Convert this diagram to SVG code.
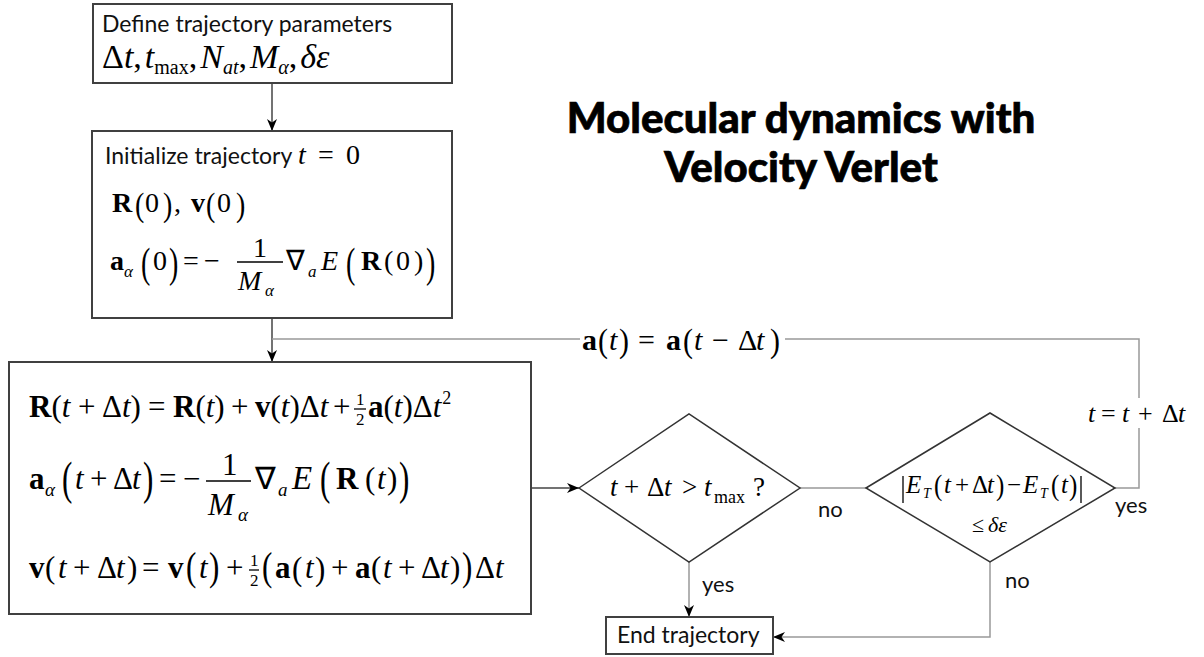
<svg xmlns="http://www.w3.org/2000/svg" width="1204" height="657" viewBox="0 0 1204 657">
<style>
.box{fill:#fff;stroke:#404040;stroke-width:2}
.dia{fill:#fff;stroke:#333;stroke-width:1.5}
.con{fill:none;stroke:#999;stroke-width:1.5}
.cond{fill:none;stroke:#444;stroke-width:1.5}
.s{font-family:Lato,"Open Sans","Liberation Sans",sans-serif;fill:#111}
.m{font-family:"Liberation Serif","Times New Roman",serif;fill:#000}
.i{font-style:italic}
.b{font-weight:bold}
.title{font-family:Lato,"Open Sans","Liberation Sans",sans-serif;font-weight:900;font-size:42px;fill:#000;stroke:#000;stroke-width:0.7;text-anchor:middle}
.bar{stroke:#000;stroke-width:1.3}
</style>
<defs>
<marker id="ah" viewBox="0 0 12 10" refX="12" refY="5" markerWidth="12" markerHeight="10" markerUnits="userSpaceOnUse" orient="auto">
<path d="M0,0 L12,5 L0,10 L3.5,5 z" fill="#000"/>
</marker>
</defs>
<rect width="1204" height="657" fill="#fff"/>

<g id="title">
<text class="title" x="801" y="133">Molecular dynamics with</text>
<text class="title" x="801" y="182">Velocity Verlet</text>
</g>

<g id="connectors">
<path class="cond" d="M272,83 V131" marker-end="url(#ah)"/>
<path class="cond" d="M272,318 V362" marker-end="url(#ah)"/>
<path class="con" d="M580,339 H272"/>
<path class="con" d="M1115,488 H1139 V428"/>
<path class="con" d="M1139,398 V339 H785"/>
<path class="cond" d="M531,488 H579" marker-end="url(#ah)"/>
<path class="con" d="M800,488 H866"/>
<path class="con" d="M689,562 V617" marker-end="url(#ah)"/>
<path class="con" d="M990,562 V637 H773" marker-end="url(#ah)"/>
<text class="s" x="818" y="517" font-size="22">no</text>
<text class="s" x="1115" y="513" font-size="22">yes</text>
<text class="s" x="702" y="592" font-size="22">yes</text>
<text class="s" x="1005" y="588" font-size="22">no</text>
<text class="m" font-size="30"><tspan class="b" x="582" y="350">a</tspan><tspan class="i" x="609" y="350">t</tspan><tspan x="638" y="350">=</tspan><tspan class="b" x="666" y="350">a</tspan><tspan class="i" x="694" y="350">t</tspan><tspan x="712" y="350">−</tspan><tspan x="738" y="350">Δ</tspan><tspan class="i" x="756" y="350">t</tspan></text>
<text class="m" font-size="30" transform="translate(598,352) scale(1,1.12)">(</text>
<text class="m" font-size="30" transform="translate(619,352) scale(1,1.12)">)</text>
<text class="m" font-size="30" transform="translate(683,352) scale(1,1.12)">(</text>
<text class="m" font-size="30" transform="translate(770,352) scale(1,1.12)">)</text>
<text class="m" y="422" font-size="26"><tspan class="i" x="1088">t</tspan><tspan x="1101">=</tspan><tspan class="i" x="1122">t</tspan><tspan x="1138">+</tspan><tspan x="1162">Δ</tspan><tspan class="i" x="1178">t</tspan></text>
</g>

<g id="define">
<rect class="box" x="93" y="4" width="359" height="79"/>
<text class="s" x="102" y="32" font-size="23">Define trajectory parameters</text>
<text class="m" x="102" y="68" font-size="34">Δ<tspan class="i">t</tspan>,<tspan class="i" dx="3">t</tspan><tspan font-size="20" dy="6">max</tspan><tspan dy="-6">,</tspan><tspan class="i" dx="3">N</tspan><tspan class="i" font-size="20" dy="6">at</tspan><tspan dy="-6">,</tspan><tspan class="i" dx="3">M</tspan><tspan class="i" font-size="20" dy="6">α</tspan><tspan dy="-6">,</tspan><tspan class="i" dx="3">δε</tspan></text>
</g>

<g id="init">
<rect class="box" x="92" y="131" width="360" height="187"/>
<text class="s" x="105" y="164" font-size="23">Initialize trajectory</text>
<text class="m" y="164" font-size="28"><tspan class="i" x="298">t</tspan><tspan x="318">=</tspan><tspan x="346">0</tspan></text>
<text class="m" y="212" font-size="28"><tspan class="b" x="112">R</tspan><tspan x="145">0</tspan><tspan x="174">,</tspan><tspan class="b" x="191">v</tspan><tspan x="217">0</tspan></text>
<text class="m" font-size="28" transform="translate(135,216) scale(1,1.2)">(</text>
<text class="m" font-size="28" transform="translate(163,216) scale(1,1.2)">)</text>
<text class="m" font-size="28" transform="translate(206,216) scale(1,1.2)">(</text>
<text class="m" font-size="28" transform="translate(236,216) scale(1,1.2)">)</text>
<text class="m" font-size="28"><tspan class="b" x="110" y="270">a</tspan><tspan class="i" x="124" y="277" font-size="17">α</tspan><tspan x="153" y="270">0</tspan><tspan x="183" y="270">=</tspan><tspan x="204" y="270">−</tspan><tspan x="253" y="257">1</tspan><tspan class="i" x="238" y="290">M</tspan><tspan class="i" x="265" y="296" font-size="17">α</tspan><tspan x="286" y="270">∇</tspan><tspan class="i" x="308" y="277" font-size="17">a</tspan><tspan class="i" x="321" y="270">E</tspan><tspan class="b" x="361" y="270">R</tspan><tspan x="384" y="270">(</tspan><tspan x="396" y="270">0</tspan><tspan x="414" y="270">)</tspan></text>
<text class="m" font-size="28" transform="translate(141,277) scale(1,1.5)">(</text>
<text class="m" font-size="28" transform="translate(169,277) scale(1,1.5)">)</text>
<text class="m" font-size="28" transform="translate(346,277) scale(1,1.5)">(</text>
<text class="m" font-size="28" transform="translate(426,277) scale(1,1.5)">)</text>
<line class="bar" x1="237" y1="262" x2="283" y2="262"/>
</g>

<g id="verlet">
<rect class="box" x="9" y="362" width="522" height="252"/>
<text class="m" y="417" font-size="31"><tspan x="29"><tspan class="b">R</tspan>(<tspan class="i">t</tspan></tspan><tspan x="78">+</tspan><tspan x="102">Δ<tspan class="i">t</tspan>)</tspan><tspan x="148">=</tspan><tspan x="173"><tspan class="b">R</tspan>(<tspan class="i">t</tspan>)</tspan><tspan x="231">+</tspan><tspan x="255"><tspan class="b">v</tspan>(<tspan class="i">t</tspan>)Δ<tspan class="i">t</tspan></tspan><tspan x="333">+</tspan><tspan x="368"><tspan class="b">a</tspan>(<tspan class="i">t</tspan>)Δ<tspan class="i">t</tspan></tspan><tspan font-size="18" dy="-13" dx="1">2</tspan></text>
<text class="m" font-size="17"><tspan x="356" y="405">1</tspan><tspan x="356" y="425">2</tspan></text>
<line class="bar" x1="354" y1="409" x2="366" y2="409" stroke-width="1"/>

<text class="m" font-size="31"><tspan class="b" x="29" y="489">a</tspan><tspan class="i" x="45" y="496" font-size="19">α</tspan><tspan class="i" x="75" y="489">t</tspan><tspan x="90" y="489">+</tspan><tspan x="113" y="489">Δ</tspan><tspan class="i" x="132" y="489">t</tspan><tspan x="159" y="489">=</tspan><tspan x="183" y="489">−</tspan><tspan x="222" y="475">1</tspan><tspan class="i" x="208" y="515">M</tspan><tspan class="i" x="238" y="521" font-size="19">α</tspan><tspan x="255" y="489">∇</tspan><tspan class="i" x="278" y="496" font-size="19">a</tspan><tspan class="i" x="292" y="489" font-size="33">E</tspan><tspan class="b" x="336" y="489">R</tspan><tspan x="365" y="489">(</tspan><tspan class="i" x="377" y="489">t</tspan><tspan x="387" y="489">)</tspan></text>
<text class="m" font-size="31" transform="translate(320,494) scale(1,1.48)">(</text>
<text class="m" font-size="31" transform="translate(62,494) scale(1,1.48)">(</text>
<text class="m" font-size="31" transform="translate(143,494) scale(1,1.48)">)</text>
<text class="m" font-size="31" transform="translate(399,494) scale(1,1.48)">)</text>
<line class="bar" x1="206" y1="481" x2="251" y2="481"/>

<text class="m" font-size="31"><tspan class="b" x="29" y="578">v</tspan><tspan x="45" y="578">(</tspan><tspan class="i" x="58" y="578">t</tspan><tspan x="73" y="578">+</tspan><tspan x="97" y="578">Δ</tspan><tspan class="i" x="116" y="578">t</tspan><tspan x="127" y="578">)</tspan><tspan x="142" y="578">=</tspan><tspan class="b" x="168" y="578">v</tspan><tspan class="i" x="199" y="578">t</tspan><tspan x="226" y="578">+</tspan><tspan class="b" x="275" y="578">a</tspan><tspan class="i" x="305" y="578">t</tspan><tspan x="331" y="578">+</tspan><tspan class="b" x="355" y="578">a</tspan><tspan x="371" y="578">(</tspan><tspan class="i" x="383" y="578">t</tspan><tspan x="398" y="578">+</tspan><tspan x="421" y="578">Δ</tspan><tspan class="i" x="440" y="578">t</tspan><tspan x="450" y="578">)</tspan><tspan x="475" y="578">Δ<tspan class="i">t</tspan></tspan></text>
<text class="m" font-size="31" transform="translate(186,580) scale(1,1.26)">(</text>
<text class="m" font-size="31" transform="translate(209,580) scale(1,1.26)">)</text>
<text class="m" font-size="31" transform="translate(262,580) scale(1,1.26)">(</text>
<text class="m" font-size="31" transform="translate(292,580) scale(1,1.1)">(</text>
<text class="m" font-size="31" transform="translate(315,580) scale(1,1.1)">)</text>
<text class="m" font-size="31" transform="translate(462,580) scale(1,1.26)">)</text>
<text class="m" font-size="17"><tspan x="250" y="566">1</tspan><tspan x="250" y="586">2</tspan></text>
<line class="bar" x1="249" y1="570" x2="259" y2="570" stroke-width="1"/>
</g>

<g id="check-tmax">
<polygon class="dia" points="579,488 689,414 800,488 689,562"/>
<text class="m" font-size="27"><tspan class="i" x="610" y="496">t</tspan><tspan x="624" y="496">+</tspan><tspan x="647" y="496">Δ</tspan><tspan class="i" x="664" y="496">t</tspan><tspan x="682" y="496">&gt;</tspan><tspan class="i" x="704" y="496">t</tspan><tspan x="714" y="503" font-size="18">max</tspan><tspan x="753" y="496">?</tspan></text>
</g>

<g id="check-energy">
<polygon class="dia" points="866,488 990,413 1115,488 990,562"/>
<line class="bar" x1="903" y1="476" x2="903" y2="503" stroke-width="1.2"/>
<line class="bar" x1="1081" y1="476" x2="1081" y2="503" stroke-width="1.2"/>
<text class="m" font-size="25"><tspan class="i" x="906" y="493">E</tspan><tspan class="i" x="923" y="498" font-size="14">T</tspan><tspan class="i" x="944" y="493">t</tspan><tspan x="955" y="493">+</tspan><tspan x="972" y="493">Δ</tspan><tspan class="i" x="987" y="493">t</tspan><tspan x="1007" y="493">−</tspan><tspan class="i" x="1023" y="493">E</tspan><tspan class="i" x="1040" y="498" font-size="14">T</tspan><tspan class="i" x="1061" y="493">t</tspan></text>
<text class="m" font-size="25" transform="translate(934,495) scale(1,1.2)">(</text>
<text class="m" font-size="25" transform="translate(996,495) scale(1,1.2)">)</text>
<text class="m" font-size="25" transform="translate(1051,495) scale(1,1.2)">(</text>
<text class="m" font-size="25" transform="translate(1069,495) scale(1,1.2)">)</text>
<text class="m" font-size="22"><tspan x="972" y="532">≤</tspan><tspan class="i" x="988" y="532">δε</tspan></text>
</g>

<g id="end">
<rect class="box" x="606" y="617" width="167" height="37"/>
<text class="s" x="617" y="643" font-size="23">End trajectory</text>
</g>
</svg>
